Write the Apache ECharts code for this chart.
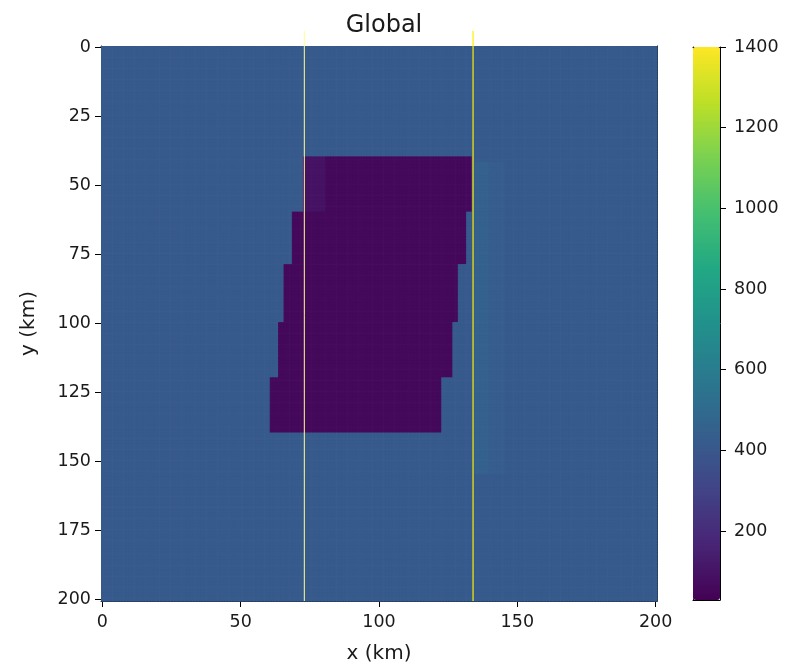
<!DOCTYPE html>
<html>
<head>
<meta charset="utf-8">
<script src="https://cdn.jsdelivr.net/npm/echarts@6/dist/echarts.min.js"></script>
<style>html,body{margin:0;padding:0;background:#fff}#c{width:792px;height:664px}</style>
</head>
<body>
<div id="c"></div>
<script>
// ---- data ----
const gridSize = 201;               // cells 0..200 km in x and y
const xTicks = [0, 50, 100, 150, 200];
const yTicks = [0, 25, 50, 75, 100, 125, 150, 175, 200];
const colorTicks = [200, 400, 600, 800, 1000, 1200, 1400];
const colorMin = 29;
const colorMax = 1400;

const backgroundValue = 415;
// low-value block: horizontal bands with stepped left/right edges (km)
const blockRowStart = [40, 60, 79, 100, 120];
const blockRowEnd   = [60, 79, 100, 120, 140];
const blockLeft     = [73, 69, 66, 64, 61];
const blockRight    = [134, 132, 129, 127, 123];
const blockValue = 60;
// slightly brighter strip inside the top-left of the block
const stripX = [73, 81];
const stripY = [40, 60];
const stripValue = 95;
// faint brighter bands just right of the yellow line
const shadowInnerX = [135, 140];
const shadowOuterX = [140, 146];
const shadowY = [42, 155];
const shadowInnerValue = 450;
const shadowOuterValue = 432;

// vertical marker lines (km)
const lineX = [73, 134];
const lineColors = ['#ffff90', '#ffee00'];
const lineYRange = [-6, 200.5];

// ---- build the cell table ----
function valueAt(x, y) {
  for (let b = 0; b < blockRowStart.length; b++) {
    if (y >= blockRowStart[b] && y < blockRowEnd[b] && x >= blockLeft[b] && x < blockRight[b]) {
      if (x >= stripX[0] && x < stripX[1] && y >= stripY[0] && y < stripY[1]) return stripValue;
      return blockValue;
    }
  }
  if (y >= shadowY[0] && y < shadowY[1]) {
    if (x >= shadowInnerX[0] && x < shadowInnerX[1]) return shadowInnerValue;
    if (x >= shadowOuterX[0] && x < shadowOuterX[1]) return shadowOuterValue;
  }
  return backgroundValue;
}
const cells = [];
for (let y = 0; y < gridSize; y++) for (let x = 0; x < gridSize; x++) cells.push([x, y, valueAt(x, y)]);

const viridis = ['#440154','#482475','#414487','#355f8d','#2a788e','#21918c','#22a884','#44bf70','#7ad151','#bddf26','#fde725'];

const font = 'DejaVu Sans';
const txt = '#1a1a1a';
const tickFont = 17.5;
const plot = {left: 101, top: 46, width: 556, height: 555};
const cbar = {left: 693, top: 47, width: 27, height: 553};
const fmt = v => String(v);

const chart = echarts.init(document.getElementById('c'), null, {renderer: 'canvas'});
chart.setOption({
  animation: false,
  backgroundColor: '#fff',
  title: {
    text: 'Global', left: plot.left + plot.width / 2, top: 9, textAlign: 'center',
    textStyle: {fontFamily: font, fontSize: 24, fontWeight: 'normal', color: txt}
  },
  grid: [
    Object.assign({show: false, containLabel: false, outerBoundsMode: 'none'}, plot),
    Object.assign({show: false, containLabel: false, outerBoundsMode: 'none'}, cbar)
  ],
  xAxis: [
    {gridIndex: 0, type: 'value', min: -0.5, max: 200.5, position: 'bottom',
     axisLine: {show: true, onZero: false, lineStyle: {color: '#000', width: 1}},
     axisTick: {show: true, length: 6, customValues: xTicks, lineStyle: {color: '#000'}},
     axisLabel: {customValues: xTicks, formatter: fmt, fontFamily: font, fontSize: tickFont, color: txt, margin: 12},
     splitLine: {show: false},
     name: 'x (km)', nameLocation: 'middle', nameGap: 43,
     nameTextStyle: {fontFamily: font, fontSize: 20, color: txt}},
    {gridIndex: 0, type: 'value', min: -0.5, max: 200.5, position: 'top',
     axisLine: {show: true, onZero: false, lineStyle: {color: '#000'}},
     axisTick: {show: false}, axisLabel: {show: false}, splitLine: {show: false}},
    {gridIndex: 1, type: 'value', min: 0, max: 1, position: 'bottom',
     axisLine: {show: true, onZero: false, lineStyle: {color: '#000'}},
     axisTick: {show: false}, axisLabel: {show: false}, splitLine: {show: false}},
    {gridIndex: 1, type: 'value', min: 0, max: 1, position: 'top',
     axisLine: {show: true, onZero: false, lineStyle: {color: '#000'}},
     axisTick: {show: false}, axisLabel: {show: false}, splitLine: {show: false}}
  ],
  yAxis: [
    {gridIndex: 0, type: 'value', min: -0.5, max: 200.5, inverse: true, position: 'left',
     axisLine: {show: true, onZero: false, lineStyle: {color: '#000'}},
     axisTick: {show: true, length: 6, customValues: yTicks, lineStyle: {color: '#000'}},
     axisLabel: {customValues: yTicks, formatter: fmt, fontFamily: font, fontSize: tickFont, color: txt, margin: 10},
     splitLine: {show: false},
     name: 'y (km)', nameLocation: 'middle', nameGap: 62, nameRotate: 90,
     nameTextStyle: {fontFamily: font, fontSize: 20, color: txt}},
    {gridIndex: 0, type: 'value', min: -0.5, max: 200.5, inverse: true, position: 'right',
     axisLine: {show: true, onZero: false, lineStyle: {color: '#000'}},
     axisTick: {show: false}, axisLabel: {show: false}, splitLine: {show: false}},
    {gridIndex: 1, type: 'value', min: colorMin, max: colorMax, position: 'right',
     axisLine: {show: true, onZero: false, lineStyle: {color: '#000'}},
     axisTick: {show: true, length: 6, customValues: colorTicks, lineStyle: {color: '#000'}},
     axisLabel: {customValues: colorTicks, formatter: fmt, fontFamily: font, fontSize: tickFont, color: txt, margin: 14},
     splitLine: {show: false}},
    {gridIndex: 1, type: 'value', min: colorMin, max: colorMax, position: 'left',
     axisLine: {show: true, onZero: false, lineStyle: {color: '#000'}},
     axisTick: {show: false}, axisLabel: {show: false}, splitLine: {show: false}}
  ],
  visualMap: {
    type: 'continuous', min: colorMin, max: colorMax, seriesIndex: 0, dimension: 2,
    calculable: false, realtime: false, hoverLink: false,
    left: cbar.left, top: cbar.top, itemWidth: cbar.width, itemHeight: cbar.height,
    padding: 0, text: null, showLabel: false,
    inRange: {color: viridis},
    textStyle: {color: 'transparent'}
  },
  series: [
    {type: 'custom', xAxisIndex: 0, yAxisIndex: 0, data: cells, silent: true,
     progressive: 0, progressiveThreshold: 1e9,
     dimensions: ['x', 'y', 'v'], encode: {x: 0, y: 1},
     renderItem: function (params, api) {
       const x = api.value(0), y = api.value(1);
       const a = api.coord([x - 0.5, y - 0.5]);
       const b = api.coord([x + 0.5, y + 0.5]);
       return {
         type: 'rect', silent: true,
         shape: {x: Math.min(a[0], b[0]), y: Math.min(a[1], b[1]),
                 width: Math.abs(b[0] - a[0]) + 0.7, height: Math.abs(b[1] - a[1]) + 0.7},
         style: {fill: api.visual('color')}
       };
     }},
    {type: 'line', xAxisIndex: 0, yAxisIndex: 0, clip: false, symbol: 'none', silent: true, z: 5,
     data: [[lineX[0], lineYRange[0]], [lineX[0], lineYRange[1]]],
     lineStyle: {color: lineColors[0], width: 1}},
    {type: 'line', xAxisIndex: 0, yAxisIndex: 0, clip: false, symbol: 'none', silent: true, z: 5,
     data: [[lineX[1], lineYRange[0]], [lineX[1], lineYRange[1]]],
     lineStyle: {color: lineColors[1], width: 1.2}}
  ]
});
</script>
</body>
</html>
